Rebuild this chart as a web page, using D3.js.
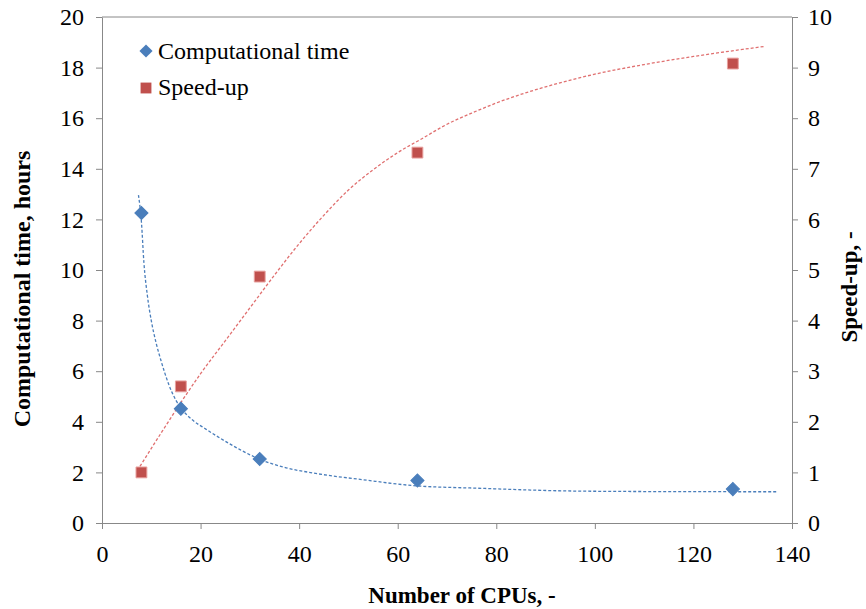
<!DOCTYPE html>
<html>
<head>
<meta charset="utf-8">
<script src="https://cdn.jsdelivr.net/npm/d3@7"></script>
<style>
  body { margin: 0; background: #fff; }
  text { font-family: "Liberation Serif", "Times New Roman", serif; fill: #000; }
</style>
</head>
<body>
<script>
// measured points
const cpus = [8, 16, 32, 64, 128];
const compTime = [12.25, 4.52, 2.53, 1.68, 1.34];
const speedUp = [1.0, 2.7, 4.87, 7.32, 9.08];

// trend lines
const timeTrendX = [7.4, 8, 8.5, 9.2, 10, 11, 12, 13.5, 15, 16.2, 18.5, 21, 24, 28, 32, 37, 43, 53, 63, 77, 97, 117, 137];
const timeTrendY = [12.96, 11.9, 10.3, 9.0, 8.0, 7.1, 6.4, 5.5, 4.85, 4.5, 4.05, 3.72, 3.35, 2.9, 2.52, 2.2, 1.97, 1.71, 1.48, 1.37, 1.26, 1.24, 1.235];
const speedTrendX = [7.7, 12, 16, 20, 25, 30, 35, 40, 45, 50, 55, 60, 65, 70, 75, 80, 90, 100, 110, 120, 130, 134.5];
const speedTrendY = [1.12, 1.78, 2.38, 2.95, 3.6, 4.25, 4.9, 5.52, 6.08, 6.58, 6.98, 7.32, 7.6, 7.88, 8.1, 8.3, 8.62, 8.87, 9.06, 9.22, 9.36, 9.42];

// ticks
const xTicks = [0, 20, 40, 60, 80, 100, 120, 140];
const leftTicks = [0, 2, 4, 6, 8, 10, 12, 14, 16, 18, 20];
const rightTicks = [0, 1, 2, 3, 4, 5, 6, 7, 8, 9, 10];

const W = 866, H = 609;
const m = {left: 102, right: 792, top: 17, bottom: 523};
const blue = "#4a7ebb", red = "#c0504d", axisCol = "#888888";

const svg = d3.select("body").append("svg")
    .attr("width", W)
    .attr("height", H)

const x = d3.scaleLinear().domain([0, 140]).range([m.left, m.right])
const yL = d3.scaleLinear().domain([0, 20]).range([m.bottom, m.top])
const yR = d3.scaleLinear().domain([0, 10]).range([m.bottom, m.top])

// box top line
svg.append("line")
    .attr("x1", m.left).attr("x2", m.right)
    .attr("y1", m.top).attr("y2", m.top)
    .style("stroke", axisCol)

function style_axis(g){
    g.select(".domain").style("stroke", axisCol)
    g.selectAll(".tick line").style("stroke", axisCol)
    g.selectAll(".tick text")
        .style("font-size", "24px")
        .style("font-family", "\"Liberation Serif\", serif")
        .style("fill", "#000")
}

svg.append("g")
    .attr("transform", `translate(0,${m.bottom})`)
    .call(d3.axisBottom(x).tickValues(xTicks).tickSize(6).tickSizeOuter(0).tickPadding(16))
    .call(style_axis)

svg.append("g")
    .attr("transform", `translate(${m.left},0)`)
    .call(d3.axisLeft(yL).tickValues(leftTicks).tickSize(6).tickSizeOuter(0).tickPadding(12))
    .call(style_axis)

svg.append("g")
    .attr("transform", `translate(${m.right},0)`)
    .call(d3.axisRight(yR).tickValues(rightTicks).tickSize(6).tickSizeOuter(0).tickPadding(10))
    .call(style_axis)

// trend lines
const timeLine = d3.line()
    .x(d => x(d[0])).y(d => yL(d[1]))
    .curve(d3.curveMonotoneX)
const speedLine = d3.line()
    .x(d => x(d[0])).y(d => yR(d[1]))
    .curve(d3.curveMonotoneX)

svg.append("path")
    .datum(d3.zip(timeTrendX, timeTrendY))
    .attr("d", timeLine)
    .style("fill", "none")
    .style("stroke", blue)
    .style("stroke-width", 1.3)
    .style("stroke-dasharray", "3,2")

svg.append("path")
    .datum(d3.zip(speedTrendX, speedTrendY))
    .attr("d", speedLine)
    .style("fill", "none")
    .style("stroke", "#e07070")
    .style("stroke-width", 1.3)
    .style("stroke-dasharray", "3,2")

// markers (diamond = square turned 45deg)
const diamond = d3.symbol().type(d3.symbolSquare2).size(110)
const square = d3.symbol().type(d3.symbolSquare2).size(150)

svg.selectAll(".time")
    .data(d3.zip(cpus, compTime))
    .join("path")
    .attr("class", "time")
    .attr("d", diamond)
    .attr("transform", d => `translate(${x(d[0])},${yL(d[1])}) rotate(45)`)
    .style("fill", blue)
    .style("stroke", blue)
    .style("stroke-width", 1)

svg.selectAll(".speed")
    .data(d3.zip(cpus, speedUp))
    .join("path")
    .attr("class", "speed")
    .attr("d", square)
    .attr("transform", d => `translate(${x(d[0])},${yR(d[1])})`)
    .style("fill", red)
    .style("stroke", "#e8a09e")
    .style("stroke-width", 1)

// legend
svg.append("path")
    .attr("d", diamond)
    .attr("transform", "translate(146,51) rotate(45)")
    .style("fill", blue)
svg.append("text")
    .attr("x", 158).attr("y", 59)
    .style("font-size", "24px")
    .text("Computational time")

svg.append("path")
    .attr("d", square)
    .attr("transform", "translate(146,88)")
    .style("fill", red)
svg.append("text")
    .attr("x", 158).attr("y", 95)
    .style("font-size", "24px")
    .text("Speed-up")

// axis titles
svg.append("text")
    .attr("transform", "translate(30,289) rotate(-90)")
    .attr("text-anchor", "middle")
    .style("font-size", "24px")
    .style("font-weight", "bold")
    .text("Computational time, hours")

svg.append("text")
    .attr("transform", "translate(857,287) rotate(-90)")
    .attr("text-anchor", "middle")
    .style("font-size", "23px")
    .style("font-weight", "bold")
    .text("Speed-up, -")

svg.append("text")
    .attr("x", 462).attr("y", 603)
    .attr("text-anchor", "middle")
    .style("font-size", "23px")
    .style("font-weight", "bold")
    .text("Number of CPUs, -")
</script>
</body>
</html>
